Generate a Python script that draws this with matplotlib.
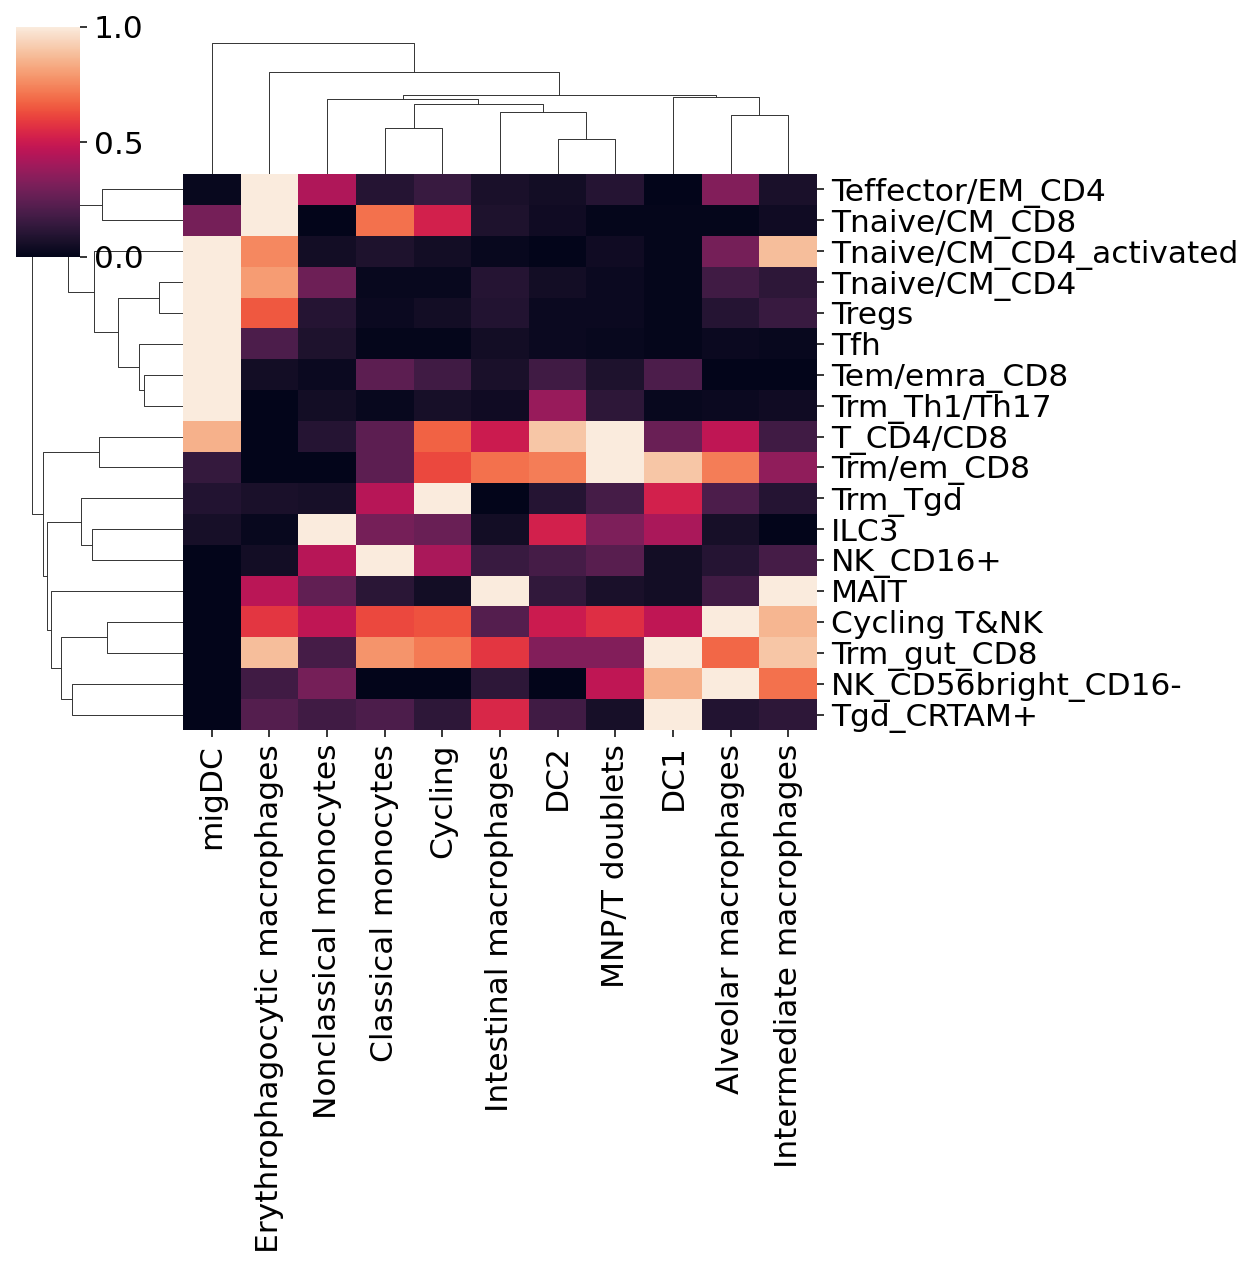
import matplotlib
matplotlib.use("Agg")
import matplotlib.pyplot as plt
import numpy as np
import seaborn as sns

# column / row labels in clustered (display) order
col_labels = ["migDC", "Erythrophagocytic macrophages", "Nonclassical monocytes",
              "Classical monocytes", "Cycling", "Intestinal macrophages", "DC2",
              "MNP/T doublets", "DC1", "Alveolar macrophages", "Intermediate macrophages"]
row_labels = ["Teffector/EM_CD4", "Tnaive/CM_CD8", "Tnaive/CM_CD4_activated",
              "Tnaive/CM_CD4", "Tregs", "Tfh", "Tem/emra_CD8", "Trm_Th1/Th17",
              "T_CD4/CD8", "Trm/em_CD8", "Trm_Tgd", "ILC3", "NK_CD16+", "MAIT",
              "Cycling T&NK", "Trm_gut_CD8", "NK_CD56bright_CD16-", "Tgd_CRTAM+"]

# scaled values, one list per row
values = [
    [0.02, 1.00, 0.43, 0.10, 0.15, 0.07, 0.05, 0.10, 0.00, 0.33, 0.07],
    [0.30, 1.00, 0.00, 0.70, 0.52, 0.08, 0.04, 0.01, 0.01, 0.01, 0.04],
    [1.00, 0.75, 0.05, 0.08, 0.05, 0.02, 0.00, 0.04, 0.01, 0.30, 0.88],
    [1.00, 0.80, 0.28, 0.02, 0.02, 0.10, 0.05, 0.03, 0.01, 0.17, 0.12],
    [1.00, 0.65, 0.10, 0.03, 0.05, 0.09, 0.03, 0.03, 0.01, 0.10, 0.15],
    [1.00, 0.20, 0.08, 0.01, 0.01, 0.05, 0.03, 0.02, 0.01, 0.03, 0.02],
    [1.00, 0.05, 0.03, 0.24, 0.17, 0.07, 0.17, 0.08, 0.20, 0.00, 0.00],
    [1.00, 0.00, 0.05, 0.02, 0.06, 0.04, 0.38, 0.12, 0.02, 0.03, 0.04],
    [0.85, 0.00, 0.10, 0.24, 0.67, 0.50, 0.90, 1.00, 0.27, 0.47, 0.17],
    [0.14, 0.00, 0.00, 0.24, 0.62, 0.70, 0.73, 1.00, 0.90, 0.73, 0.36],
    [0.09, 0.07, 0.06, 0.45, 1.00, 0.00, 0.10, 0.18, 0.52, 0.20, 0.10],
    [0.06, 0.02, 1.00, 0.30, 0.27, 0.05, 0.52, 0.32, 0.42, 0.06, 0.00],
    [0.00, 0.05, 0.45, 1.00, 0.42, 0.15, 0.18, 0.23, 0.05, 0.10, 0.18],
    [0.00, 0.46, 0.25, 0.11, 0.05, 1.00, 0.13, 0.07, 0.05, 0.17, 1.00],
    [0.00, 0.58, 0.47, 0.62, 0.64, 0.22, 0.50, 0.56, 0.47, 1.00, 0.86],
    [0.00, 0.88, 0.18, 0.78, 0.72, 0.58, 0.33, 0.33, 1.00, 0.68, 0.90],
    [0.00, 0.17, 0.30, 0.00, 0.00, 0.12, 0.00, 0.47, 0.85, 1.00, 0.70],
    [0.00, 0.22, 0.17, 0.20, 0.12, 0.54, 0.17, 0.06, 1.00, 0.09, 0.12],
]

# linkage: (child a, child b, distance); new clusters numbered n, n+1, ...
col_links = [(6, 7, 0.347), (3, 4, 0.457), (9, 10, 0.587), (5, 11, 0.617),
             (12, 14, 0.697), (2, 15, 0.747), (8, 13, 0.767), (16, 17, 0.787),
             (1, 18, 1.027), (0, 19, 1.317)]
row_links = [(0, 1, 0.807), (3, 4, 0.237), (6, 7, 0.387), (5, 20, 0.437),
             (19, 21, 0.647), (2, 22, 0.887), (18, 23, 1.147), (8, 9, 0.837),
             (11, 12, 0.907), (10, 26, 1.017), (14, 15, 0.757), (16, 17, 1.107),
             (28, 29, 1.217), (13, 30, 1.317), (27, 31, 1.353), (25, 32, 1.397),
             (24, 33, 1.507)]


def dendro_segments(links, n):
    pos = {i: i + 0.5 for i in range(n)}
    hgt = {i: 0.0 for i in range(n)}
    segs = []
    for k, (a, b, h) in enumerate(links):
        segs.append(([pos[a], pos[a], pos[b], pos[b]], [hgt[a], h, h, hgt[b]]))
        pos[n + k] = (pos[a] + pos[b]) / 2
        hgt[n + k] = h
    return segs


W, H = 1253, 1267
fig = plt.figure(figsize=(W / 100, H / 100), dpi=100)
plt.rcParams["font.family"] = ["DejaVu Sans"]
fs = 22.5
cmap = sns.color_palette("rocket", as_cmap=True)

# main heatmap
ax = fig.add_axes([183 / W, 1 - 730 / H, 634 / W, 556 / H])
data = np.array(values)
mesh = ax.pcolormesh(data, cmap=cmap, vmin=0, vmax=1)
ax.set_xlim(0, len(col_labels))
ax.set_ylim(len(row_labels), 0)
ax.set_xticks(np.arange(len(col_labels)) + 0.5)
ax.set_xticklabels(col_labels, rotation=90, fontsize=fs)
ax.set_yticks(np.arange(len(row_labels)) + 0.5)
ax.set_yticklabels(row_labels, fontsize=fs)
ax.yaxis.tick_right()
ax.tick_params(length=5, width=1.1, pad=5)
for s in ax.spines.values():
    s.set_visible(False)

# column dendrogram
ax_col = fig.add_axes([183 / W, 1 - 174 / H, 634 / W, 138 / H])
for xs, ys in dendro_segments(col_links, len(col_labels)):
    ax_col.plot(xs, ys, color=".2", lw=0.7)
ax_col.set_xlim(0, len(col_labels))
ax_col.set_ylim(0, max(l[2] for l in col_links) * 1.05)
ax_col.axis("off")

# row dendrogram
ax_row = fig.add_axes([24.4 / W, 1 - 730 / H, 158.6 / W, 556 / H])
for xs, ys in dendro_segments(row_links, len(row_labels)):
    ax_row.plot(ys, xs, color=".2", lw=0.7)
ax_row.set_ylim(len(row_labels), 0)
ax_row.set_xlim(max(l[2] for l in row_links) * 1.05, 0)
ax_row.axis("off")

# colorbar
cax = fig.add_axes([16 / W, 1 - 257 / H, 64 / W, 230 / H])
cb = fig.colorbar(mesh, cax=cax, ticks=[0.0, 0.5, 1.0])
cb.outline.set_visible(False)
cb.ax.set_yticklabels(["0.0", "0.5", "1.0"])
cb.ax.tick_params(labelsize=fs, length=5, width=1.1, pad=5)

fig.savefig("out.png", dpi=100)
